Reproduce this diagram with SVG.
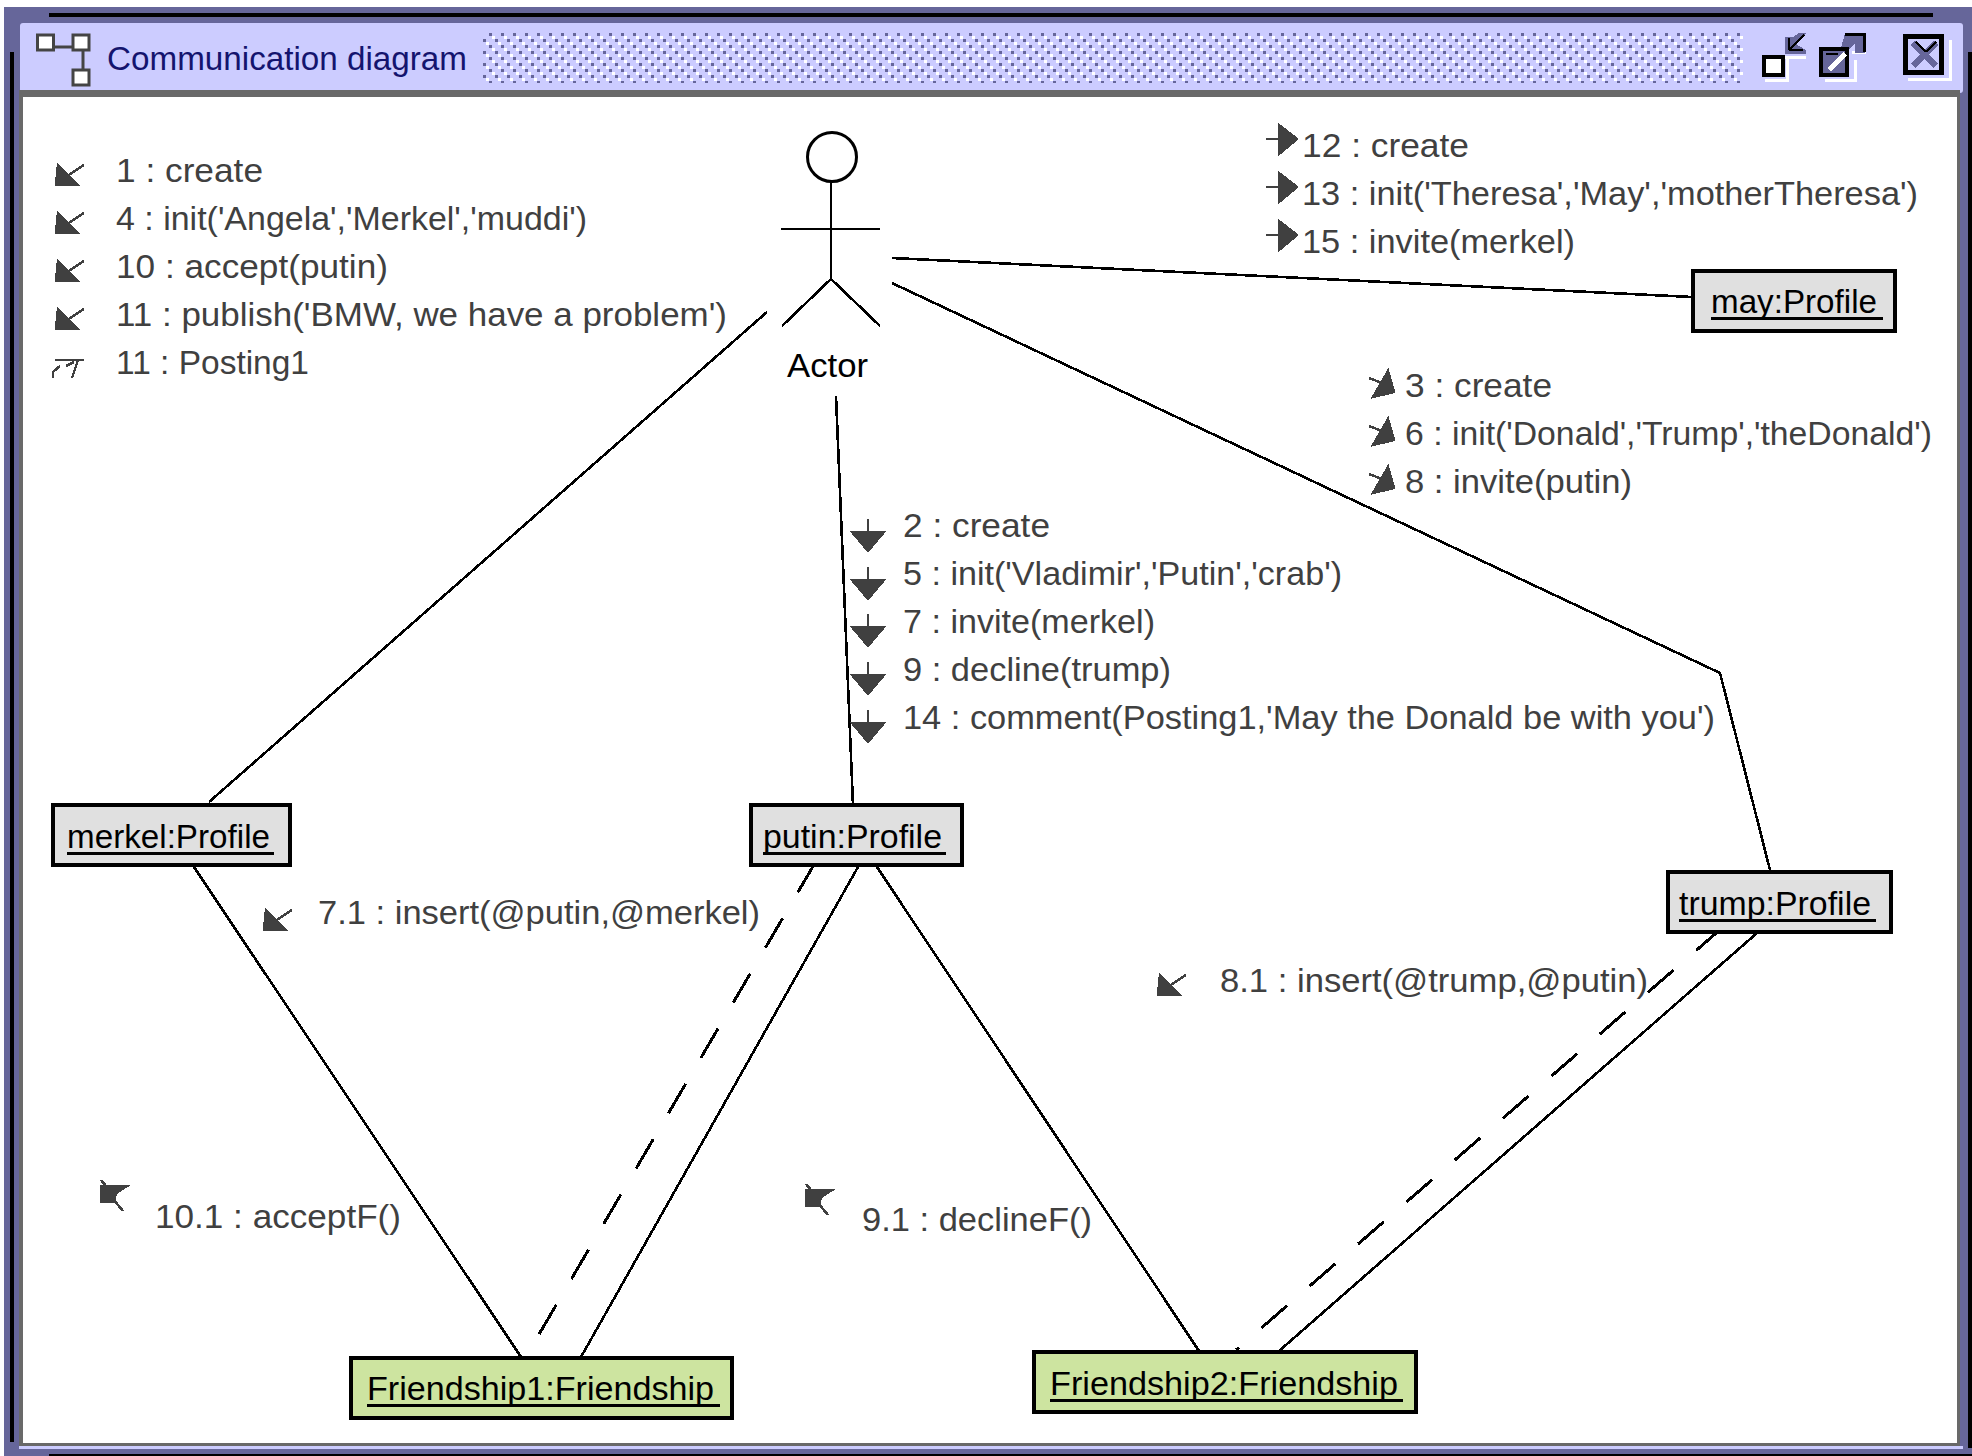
<svg xmlns="http://www.w3.org/2000/svg" xmlns:xlink="http://www.w3.org/1999/xlink" width="1972" height="1456" viewBox="0 0 1972 1456">
<style>
text{font-family:"Liberation Sans",Arial,sans-serif;font-size:33px;fill:#404040}
.n{fill:#000}
.ttl{fill:#14146e}
.l{fill:none;stroke:#000;stroke-width:2.6;shape-rendering:crispEdges}
.d{stroke-dasharray:34 30;stroke-width:3}
.box{stroke:#000;stroke-width:3.400;shape-rendering:crispEdges}
.g{fill:#e0e0e0}
.f{fill:#cde4a0}
.u{stroke:#000;stroke-width:3;shape-rendering:crispEdges}
.ic{fill:#404040;stroke:#404040;stroke-width:2.5;shape-rendering:crispEdges}
.b{fill:#000;shape-rendering:crispEdges}
.p{fill:#66669a;shape-rendering:crispEdges}
</style>
<defs>
<pattern id="dith" width="12" height="12" patternUnits="userSpaceOnUse">
<rect width="3" height="3" x="0" y="0" fill="#fff"/><rect width="3" height="3" x="3" y="3" fill="#66669a"/>
<rect width="3" height="3" x="6" y="6" fill="#fff"/><rect width="3" height="3" x="9" y="9" fill="#66669a"/>
</pattern>
<g id="down"><path d="M0 0V32M-16 13H16L0 32Z"/></g>
<g id="right"><path d="M0 14H32M13 0V29L31 14Z"/></g>
<g id="ll"><path d="M0 22L2 2L22 22ZM11 13L28 2"/></g>
<g id="ul"><path d="M1 6H27L16 13L14 22H1ZM1 0L6 6M13 19L23 31"/></g>
<g id="ur"><path d="M4 26L19 0L25 21ZM0 7L13 12"/></g>
</defs>
<g id="window">
<rect x="4" y="7" width="1968" height="1449" class="p"/>
<rect x="49" y="13" width="1884" height="4" class="b"/>
<rect x="10" y="52" width="4" height="1390" class="b"/>
<rect x="1968" y="52" width="4" height="1396" class="b"/>
<rect x="49" y="1454" width="1923" height="2" class="b"/>
<rect x="20" y="23" width="1943" height="70" rx="3" fill="#ccccff"/>
<rect x="483" y="33" width="1260" height="50" fill="url(#dith)"/>
<rect x="19" y="90" width="1941" height="7" fill="#696969"/>
<rect x="19" y="90" width="4" height="1356" fill="#696969"/>
<rect x="1957" y="90" width="3" height="1356" fill="#696969"/>
<rect x="23" y="97" width="1934" height="1346" fill="#fff"/>
<rect x="19" y="1443" width="1941" height="3" fill="#696969"/>
<rect x="19" y="1446" width="1944" height="3" fill="#ccccff"/>
<g fill="#fff" stroke="#444" stroke-width="3">
<rect x="37.500" y="35" width="16" height="15"/><rect x="73" y="35" width="16" height="15"/><rect x="73" y="70" width="16" height="15"/>
</g>
<path d="M54 47H73M83 50V70" stroke="#444" stroke-width="3"/>
<text x="107" y="70" class="ttl" textLength="360" lengthAdjust="spacingAndGlyphs">Communication diagram</text>
<g shape-rendering="crispEdges">
<path d="M1765 80H1787V58M1785 57H1806M1825 80H1855V60M1852 52H1866M1908 79H1950V40" fill="none" stroke="#fff" stroke-width="3"/>
<rect x="1764" y="57" width="19" height="18" fill="#fff" stroke="#000" stroke-width="4"/>
<path d="M1785 37H1793L1799 33H1806L1796 44L1806 50V54H1785Z" fill="#66669a"/>
<path d="M1789 50V38M1789 50L1804 35M1789 50H1803" fill="none" stroke="#000" stroke-width="2.500"/>
<path d="M1845 33H1865V53H1855V44L1846 52H1840Z" fill="#66669a"/>
<path d="M1845 34H1864V52" fill="none" stroke="#000" stroke-width="3"/>
<rect x="1821" y="49" width="26" height="26" fill="#66669a" stroke="#000" stroke-width="4"/>
<path d="M1829 70L1845 54" stroke="#fff" stroke-width="5"/>
<path d="M1826 54L1838 54" stroke="#000" stroke-width="2"/>
<rect x="1905" y="36" width="36" height="36" fill="#ccccff" stroke="#000" stroke-width="5"/>
<path d="M1913 43L1936 66M1936 43L1913 66" stroke="#66669a" stroke-width="6"/>
<path d="M1916 42L1926 52M1936 42L1926 52" stroke="#000" stroke-width="2"/>
</g>
</g>
<g id="connectors">
<path class="l" d="M767 312L209 802"/>
<path class="l" d="M836 396L853 805"/>
<path class="l" d="M892 258L1692 297"/>
<path class="l" d="M892 283L1720 673L1770 870"/>
<path class="l" d="M194 867L521 1357"/>
<path class="l" d="M858 867L581 1357"/>
<path class="l d" d="M815 863L538 1336"/>
<path class="l" d="M877 867L1199 1351"/>
<path class="l" d="M1757 933L1279 1351"/>
<path class="l d" d="M1722 928L1236 1350"/>
</g>
<g id="actor">
<circle cx="832" cy="157" r="24.500" fill="#fff" stroke="#000" stroke-width="3"/>
<path class="l" d="M831 182V279M781 229H880M831 279L782 326M831 279L880 326"/>
<text x="787" y="377" class="n" textLength="81" lengthAdjust="spacingAndGlyphs">Actor</text>
</g>
<g id="merkel">
<rect x="53" y="805" width="237" height="60" class="box g"/>
<text x="67" y="848" class="n" textLength="203" lengthAdjust="spacingAndGlyphs">merkel:Profile</text>
<path class="u" d="M67 853H274"/>
</g>
<g id="putin">
<rect x="751" y="805" width="211" height="60" class="box g"/>
<text x="763" y="848" class="n" textLength="179" lengthAdjust="spacingAndGlyphs">putin:Profile</text>
<path class="u" d="M763 853H946"/>
</g>
<g id="may">
<rect x="1693" y="271" width="202" height="60" class="box g"/>
<text x="1711" y="313" class="n" textLength="166" lengthAdjust="spacingAndGlyphs">may:Profile</text>
<path class="u" d="M1711 318H1883"/>
</g>
<g id="trump">
<rect x="1668" y="872" width="223" height="60" class="box g"/>
<text x="1679" y="915" class="n" textLength="192" lengthAdjust="spacingAndGlyphs">trump:Profile</text>
<path class="u" d="M1679 920H1876"/>
</g>
<g id="friendship1">
<rect x="351" y="1358" width="381" height="60" class="box f"/>
<text x="367" y="1400" class="n" textLength="347" lengthAdjust="spacingAndGlyphs">Friendship1:Friendship</text>
<path class="u" d="M367 1405H720"/>
</g>
<g id="friendship2">
<rect x="1034" y="1352" width="382" height="60" class="box f"/>
<text x="1050" y="1395" class="n" textLength="348" lengthAdjust="spacingAndGlyphs">Friendship2:Friendship</text>
<path class="u" d="M1050 1400H1403"/>
</g>
<g id="messages">
<g class="ic">
<use xlink:href="#ll" href="#ll" x="56" y="163"/>
<use xlink:href="#ll" href="#ll" x="56" y="211"/>
<use xlink:href="#ll" href="#ll" x="56" y="259"/>
<use xlink:href="#ll" href="#ll" x="56" y="307"/>
<use href="#ll" x="264" y="908"/>
<use href="#ll" x="1158" y="973"/>
<use href="#ul" x="100" y="1180"/>
<use href="#ul" x="805" y="1184"/>
<use href="#right" x="1266" y="125"/>
<use href="#right" x="1266" y="173"/>
<use href="#right" x="1266" y="221"/>
<use href="#ur" x="1369" y="371"/>
<use href="#ur" x="1369" y="419"/>
<use href="#ur" x="1369" y="467"/>
<use href="#down" x="868" y="519"/>
<use href="#down" x="868" y="567"/>
<use href="#down" x="868" y="614"/>
<use href="#down" x="868" y="662"/>
<use href="#down" x="868" y="710"/>
</g>
<path d="M53 378V372L60 366M55 360H84M78 360L72 378M66 366L74 362" fill="none" stroke="#404040" stroke-width="2.500" shape-rendering="crispEdges"/>
<text x="116" y="182" textLength="147" lengthAdjust="spacingAndGlyphs">1 : create</text>
<text x="116" y="230" textLength="471" lengthAdjust="spacingAndGlyphs">4 : init('Angela','Merkel','muddi')</text>
<text x="116" y="278" textLength="272" lengthAdjust="spacingAndGlyphs">10 : accept(putin)</text>
<text x="116" y="326" textLength="611" lengthAdjust="spacingAndGlyphs">11 : publish('BMW, we have a problem')</text>
<text x="116" y="374" textLength="193" lengthAdjust="spacingAndGlyphs">11 : Posting1</text>
<text x="1302" y="157" textLength="167" lengthAdjust="spacingAndGlyphs">12 : create</text>
<text x="1302" y="205" textLength="616" lengthAdjust="spacingAndGlyphs">13 : init('Theresa','May','motherTheresa')</text>
<text x="1302" y="253" textLength="273" lengthAdjust="spacingAndGlyphs">15 : invite(merkel)</text>
<text x="1405" y="397" textLength="147" lengthAdjust="spacingAndGlyphs">3 : create</text>
<text x="1405" y="445" textLength="527" lengthAdjust="spacingAndGlyphs">6 : init('Donald','Trump','theDonald')</text>
<text x="1405" y="493" textLength="227" lengthAdjust="spacingAndGlyphs">8 : invite(putin)</text>
<text x="903" y="537" textLength="147" lengthAdjust="spacingAndGlyphs">2 : create</text>
<text x="903" y="585" textLength="439" lengthAdjust="spacingAndGlyphs">5 : init('Vladimir','Putin','crab')</text>
<text x="903" y="633" textLength="252" lengthAdjust="spacingAndGlyphs">7 : invite(merkel)</text>
<text x="903" y="681" textLength="268" lengthAdjust="spacingAndGlyphs">9 : decline(trump)</text>
<text x="903" y="729" textLength="812" lengthAdjust="spacingAndGlyphs">14 : comment(Posting1,'May the Donald be with you')</text>
<text x="318" y="924" textLength="442" lengthAdjust="spacingAndGlyphs">7.1 : insert(@putin,@merkel)</text>
<text x="1220" y="992" textLength="428" lengthAdjust="spacingAndGlyphs">8.1 : insert(@trump,@putin)</text>
<text x="155" y="1228" textLength="246" lengthAdjust="spacingAndGlyphs">10.1 : acceptF()</text>
<text x="862" y="1231" textLength="230" lengthAdjust="spacingAndGlyphs">9.1 : declineF()</text>
</g>
</svg>
